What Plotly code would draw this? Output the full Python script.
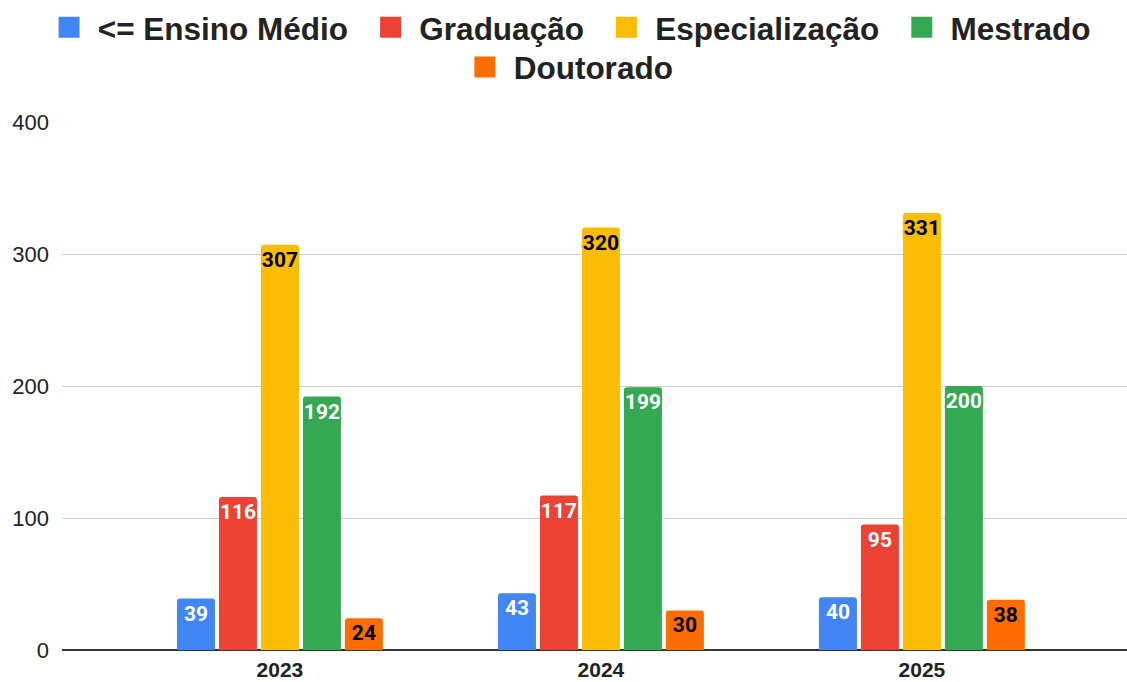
import plotly.graph_objects as go

years = ["2023", "2024", "2025"]
series_names = ["<= Ensino Médio", "Graduação", "Especialização", "Mestrado", "Doutorado"]
ensino_medio = [39, 43, 40]
graduacao = [116, 117, 95]
especializacao = [307, 320, 331]
mestrado = [192, 199, 200]
doutorado = [24, 30, 38]
y_ticks = [0, 100, 200, 300, 400]

values = [ensino_medio, graduacao, especializacao, mestrado, doutorado]
colors = ["#4285F4", "#EA4335", "#FBBC04", "#34A853", "#FF6D01"]
text_colors = ["#FFFFFF", "#FFFFFF", "#000000", "#FFFFFF", "#000000"]
legend_ids = ["legend", "legend", "legend", "legend", "legend2"]

NB = "\u00a0"


def halo(c):
    parts = []
    for dx, dy in [(-1, -1), (1, -1), (-1, 1), (1, 1), (0, 2), (0, -2), (2, 0), (-2, 0)]:
        parts.append(f"{dx}px {dy}px 0 {c}")
    return ", ".join(parts)


fig = go.Figure()
for name, vals, col, tcol in zip(series_names, values, colors, text_colors):
    fig.add_trace(go.Bar(
        name=name,
        x=years,
        y=vals,
        showlegend=False,
        marker=dict(color=col, cornerradius=3, line=dict(width=0)),
        text=[str(v) for v in vals],
        textposition="inside",
        insidetextanchor="end",
        textangle=0,
        constraintext="none",
        textfont=dict(family="Roboto", size=21, color=tcol, weight="bold", shadow=halo(col)),
        cliponaxis=False,
        hovertemplate="%{x}: %{y}<extra>" + name + "</extra>",
    ))

# legend entries
for name, col, lg in zip(series_names, colors, legend_ids):
    fig.add_trace(go.Scatter(
        name=NB + name + NB + NB,
        x=[None], y=[None],
        mode="markers",
        marker=dict(symbol="square", size=16, color=col, line=dict(width=5, color=col)),
        legend=lg,
        showlegend=True,
        hoverinfo="skip",
    ))

legend_font = dict(size=31.5, color="#222222", family="Liberation Sans, Arial", weight="bold")

fig.update_layout(
    width=1127,
    height=682,
    barmode="group",
    bargap=0.346,
    bargroupgap=0.095,
    plot_bgcolor="white",
    paper_bgcolor="white",
    margin=dict(l=62, r=0, t=122, b=32, autoexpand=False),
    font=dict(family="Liberation Sans, Arial", color="#222222"),
    legend=dict(
        orientation="h",
        xref="container", x=0.516, xanchor="center",
        yref="container", y=0.960, yanchor="middle",
        font=legend_font,
        itemsizing="trace",
        traceorder="normal",
        bgcolor="rgba(0,0,0,0)",
    ),
    legend2=dict(
        orientation="h",
        xref="container", x=0.515, xanchor="center",
        yref="container", y=0.9018, yanchor="middle",
        font=legend_font,
        itemsizing="trace",
        bgcolor="rgba(0,0,0,0)",
    ),
    showlegend=True,
)

fig.update_xaxes(
    range=[-0.679, 2.639],
    showgrid=False,
    showline=False,
    ticks="",
    ticklabelstandoff=5,
    tickfont=dict(size=21, color="#222222", weight="bold"),
    zeroline=False,
)
fig.update_yaxes(
    range=[0, 400],
    tickvals=y_ticks,
    showgrid=True,
    gridcolor="#CCCCCC",
    gridwidth=1,
    zeroline=True,
    zerolinecolor="#333333",
    zerolinewidth=1.5,
    ticks="",
    ticklabelstandoff=12,
    tickfont=dict(size=22, color="#222222"),
)

fig.write_html(
    "out.html",
    config={"displayModeBar": False},
    post_script="document.body.style.margin='0';document.body.style.overflow='hidden';",
)
